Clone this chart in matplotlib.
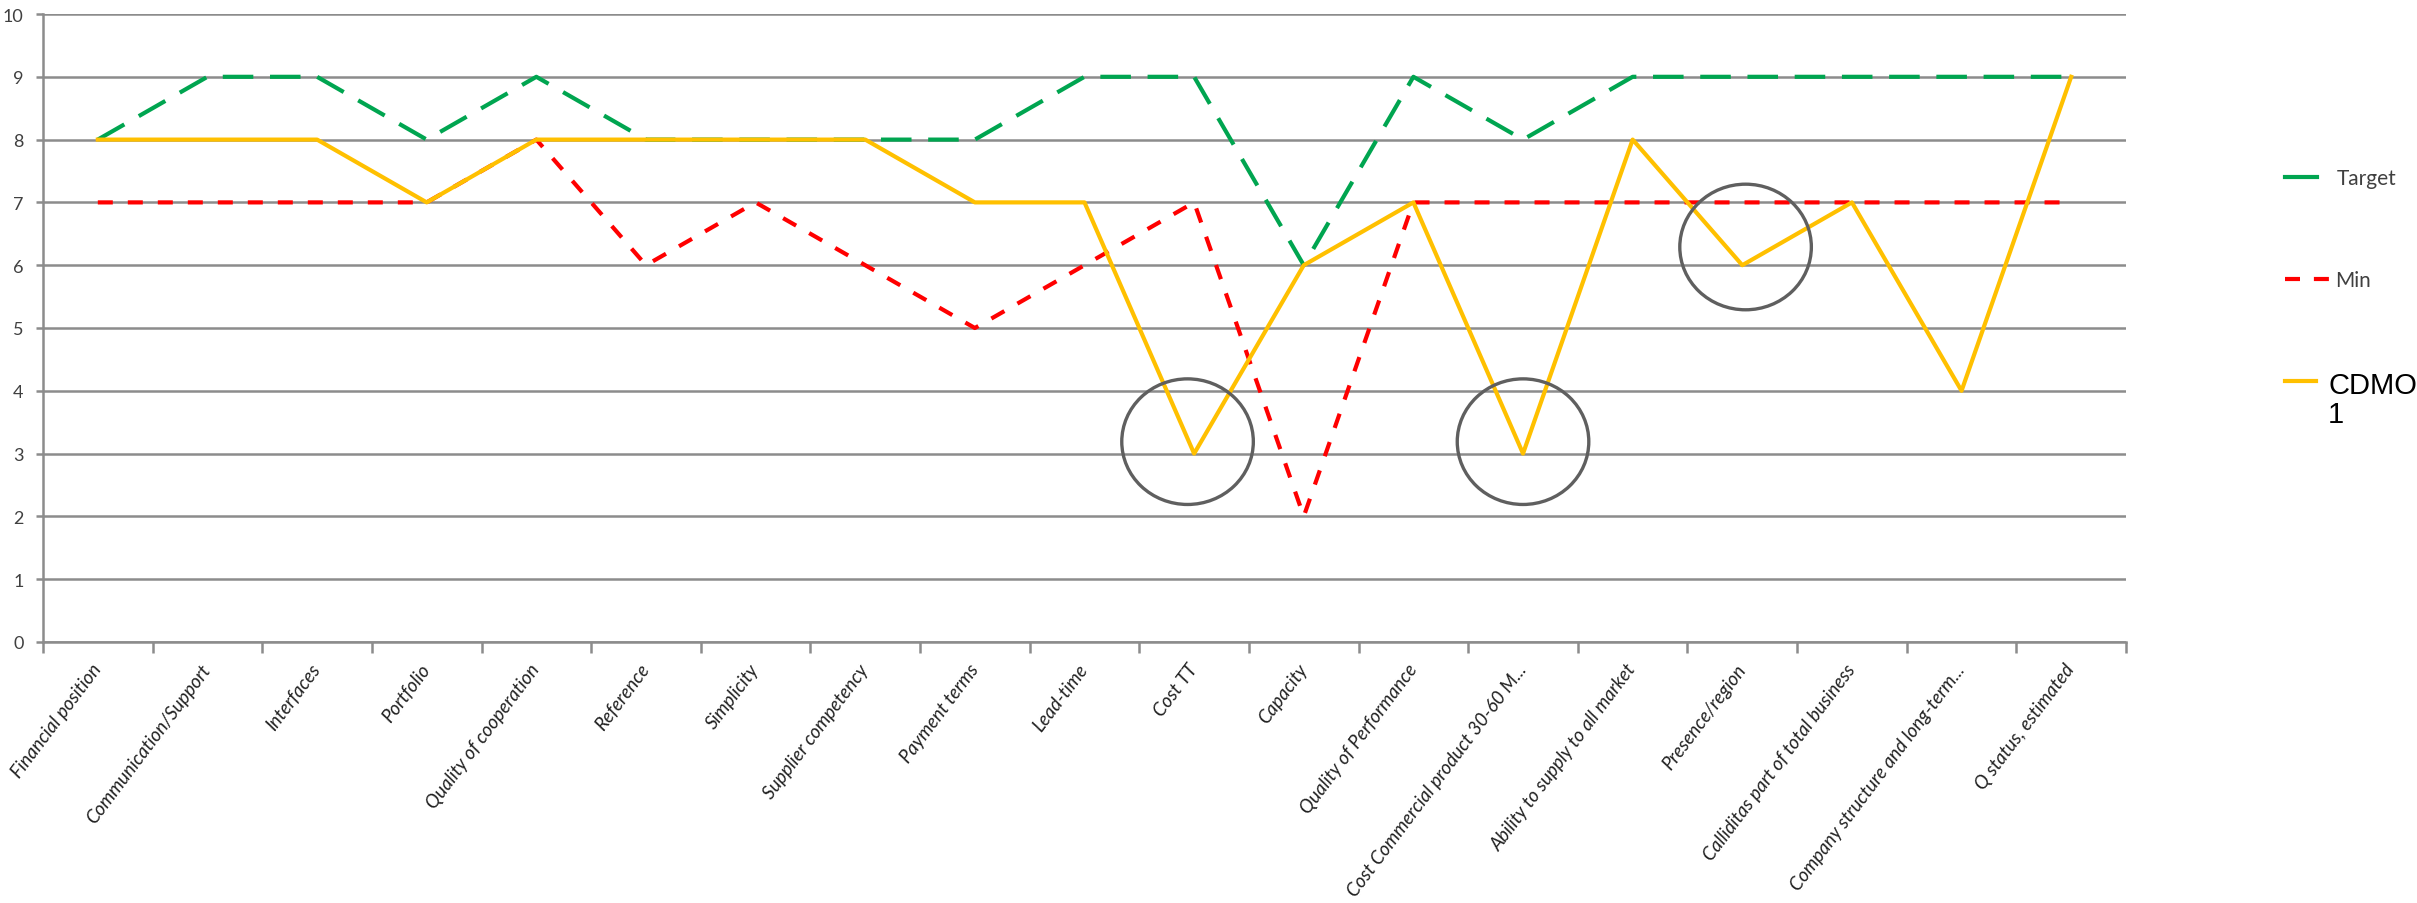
import matplotlib
matplotlib.use("Agg")
import matplotlib.pyplot as plt
from matplotlib.patches import Ellipse
from matplotlib.lines import Line2D

categories = [
    "Financial position", "Communication/Support", "Interfaces", "Portfolio",
    "Quality of cooperation", "Reference", "Simplicity", "Supplier competency",
    "Payment terms", "Lead-time", "Cost TT", "Capacity", "Quality of Performance",
    "Cost Commercial product 30-60 M...", "Ability to supply to all market",
    "Presence/region", "Calliditas part of total business",
    "Company structure and long-term...", "Q status, estimated",
]
target = [8, 9, 9, 8, 9, 8, 8, 8, 8, 9, 9, 6, 9, 8, 9, 9, 9, 9, 9]
minimum = [7, 7, 7, 7, 8, 6, 7, 6, 5, 6, 7, 2, 7, 7, 7, 7, 7, 7, 7]
cdmo = [8, 8, 8, 7, 8, 8, 8, 8, 7, 7, 3, 6, 7, 3, 8, 6, 7, 4, 9]
# points highlighted with a circle
circled = [10, 13, 15]

GREEN = '#00A550'
RED = '#FF0000'
YELLOW = '#FFC000'
GRID = '#8c8c8c'

plt.rcParams['font.family'] = ['Lato', 'DejaVu Sans']
plt.rcParams['lines.scale_dashes'] = False

W, H = 2417, 904
fig = plt.figure(figsize=(W / 100, H / 100), dpi=100)
ax = fig.add_axes([43 / W, 1 - 643 / H, (2126 - 43) / W, (643 - 15) / H])

x = list(range(len(categories)))
ax.plot(x, target, color=GREEN, lw=3.0, dashes=(22, 12), zorder=3)
ax.plot(x, minimum, color=RED, lw=3.0, dashes=(10.8, 10.8), zorder=3)
ax.plot(x, cdmo, color=YELLOW, lw=3.0, zorder=4)

offsets = {10: (-0.06, 0.19), 13: (0.0, 0.19), 15: (0.03, 0.29)}
for i in circled:
    dx, dy = offsets[i]
    ax.add_patch(Ellipse((i + dx, cdmo[i] + dy), 1.2, 2.0, fill=False,
                         edgecolor='#5f5f5f', lw=2.4, zorder=5))

ax.set_xlim(-0.5, len(categories) - 0.5)
ax.set_ylim(0, 10)
ax.set_yticks(range(0, 11))
ax.yaxis.grid(True, color=GRID, lw=1.8)
ax.set_axisbelow(True)

ax.set_xticks([i - 0.5 for i in range(len(categories) + 1)])
ax.set_xticklabels([])
ax.set_xticks(x, minor=True)
ax.set_xticklabels(categories, minor=True, rotation=53, ha='right', va='center',
                   rotation_mode='anchor', style='italic', fontsize=13.5,
                   color='#222222')
ax.tick_params(axis='x', which='major', length=8, width=1.8, color=GRID)
ax.tick_params(axis='x', which='minor', length=0, pad=17)
ax.tick_params(axis='y', length=5, width=1.8, color=GRID, labelsize=13,
               labelcolor='#404040', pad=9)

for side in ['top', 'right']:
    ax.spines[side].set_visible(False)
for side in ['left', 'bottom']:
    ax.spines[side].set_color(GRID)
    ax.spines[side].set_linewidth(1.8)


# legend on the right, placed by hand like the original
def fx(px):
    return px / W


def fy(py):
    return 1 - py / H


fig.add_artist(Line2D([fx(2285), fx(2317)], [fy(178), fy(178)],
                      transform=fig.transFigure, color=GREEN, lw=3.0))
fig.text(fx(2337), fy(179), 'Target', fontsize=15, color='#404040',
         va='center', ha='left')
fig.add_artist(Line2D([fx(2285), fx(2331)], [fy(280), fy(280)],
                      transform=fig.transFigure, color=RED, lw=3.0,
                      dashes=(10.8, 10)))
fig.text(fx(2335), fy(281), 'Min', fontsize=15, color='#404040',
         va='center', ha='left')
fig.add_artist(Line2D([fx(2285), fx(2316)], [fy(382), fy(382)],
                      transform=fig.transFigure, color=YELLOW, lw=3.0))
fig.text(fx(2328), fy(372), 'CDMO\n1', fontsize=21, color='black',
         family='Liberation Sans', va='top', ha='left', linespacing=1.05)

plt.savefig('out.png', dpi=100)
